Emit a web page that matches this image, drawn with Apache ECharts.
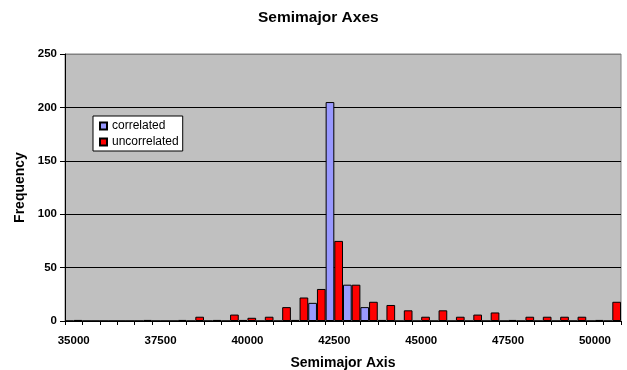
<!DOCTYPE html>
<html>
<head>
<meta charset="utf-8">
<script src="https://cdn.jsdelivr.net/npm/echarts@6/dist/echarts.min.js"></script>
<style>
html,body{margin:0;padding:0;background:#fff;}
#c{width:627px;height:370px;}
</style>
</head>
<body>
<div id="c"></div>
<script>
var categories = ['35000','35500','36000','36500','37000','37500','38000','38500','39000','39500',
  '40000','40500','41000','41500','42000','42500','43000','43500','44000','44500',
  '45000','45500','46000','46500','47000','47500','48000','48500','49000','49500',
  '50000','50500'];
var correlated = [0,0,0,0,0,0,0,0,0,0,
  1,0,0,1,17,205,34,13,1,0,
  0,0,0,0,0,0,0,0,0,0,
  0,0];
var uncorrelated = [1,0,0,0,1,0,1,4,1,6,
  3,4,13,22,30,75,34,18,15,10,
  4,10,4,6,8,1,4,4,4,4,
  1,18];
var yTicks = {min:0, max:250, interval:50};

var FONT = '"Liberation Sans", Arial, sans-serif';
var chart = echarts.init(document.getElementById('c'), null, {renderer:'canvas'});
chart.setOption({
  animation:false,
  backgroundColor:'#ffffff',
  title:{
    text:'Semimajor Axes', left:253, top:5,
    textStyle:{fontFamily:FONT, fontSize:15.5, fontWeight:'bold', color:'#000'}
  },
  legend:{
    orient:'vertical', left:93, top:116,
    backgroundColor:'#ffffff', borderColor:'#000', borderWidth:1,
    padding:[4,4,3,6], itemWidth:7, itemHeight:7, itemGap:4, icon:'rect',
    textStyle:{fontFamily:FONT, fontSize:12, color:'#000'},
    data:['correlated','uncorrelated']
  },
  grid:{
    left:65, right:6, top:54, bottom:49, outerBoundsMode:'none', containLabel:false,
    show:true, backgroundColor:'#C0C0C0', borderColor:'#808080', borderWidth:1
  },
  xAxis:{
    type:'category', data:categories, boundaryGap:true,
    name:'Semimajor Axis', nameLocation:'middle', nameGap:35,
    nameTextStyle:{fontFamily:FONT, fontSize:14, fontWeight:'bold', color:'#000'},
    axisLine:{show:true, lineStyle:{color:'#000', width:1}},
    axisTick:{show:true, interval:0, length:4, lineStyle:{color:'#000'}},
    axisLabel:{interval:4, margin:14, fontFamily:FONT, fontSize:11.5, fontWeight:'bold', color:'#000'},
    splitLine:{show:false}
  },
  yAxis:{
    type:'value', min:yTicks.min, max:yTicks.max, interval:yTicks.interval,
    name:'Frequency', nameLocation:'middle', nameGap:33, nameRotate:90,
    nameTextStyle:{fontFamily:FONT, fontSize:14, fontWeight:'bold', color:'#000'},
    axisLine:{show:true, lineStyle:{color:'#000', width:1}},
    axisTick:{show:true, length:5, lineStyle:{color:'#000'}},
    axisLabel:{margin:8, fontFamily:FONT, fontSize:11.5, fontWeight:'bold', color:'#000'},
    splitLine:{show:true, lineStyle:{color:['#000','#000','#000','#000','#000','#808080'], width:1}}
  },
  series:[
    {name:'correlated', type:'bar', data:correlated, barGap:'0%', barCategoryGap:'0%',
     itemStyle:{color:'#9999FF', borderColor:'#000', borderWidth:1}},
    {name:'uncorrelated', type:'bar', data:uncorrelated, barGap:'0%', barCategoryGap:'0%',
     itemStyle:{color:'#FF0000', borderColor:'#000', borderWidth:1}}
  ]
});
</script>
</body>
</html>
